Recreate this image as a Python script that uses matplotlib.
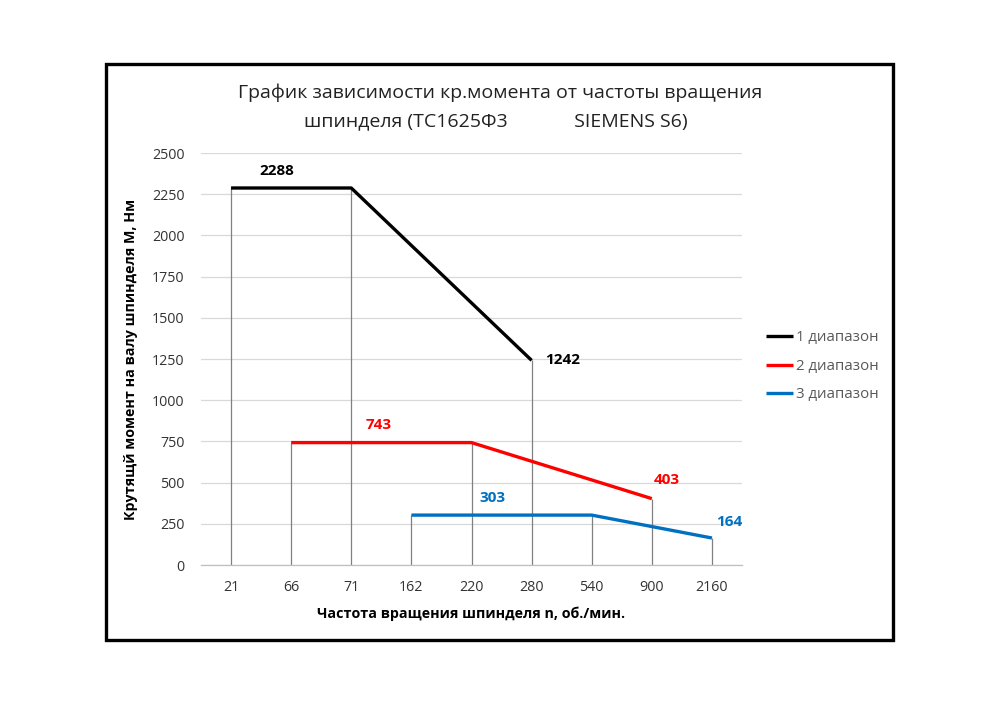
import numpy as np
import matplotlib
matplotlib.use("Agg")
import matplotlib.pyplot as plt
from matplotlib.patches import Rectangle

plt.rcParams['font.family'] = ['Open Sans', 'DejaVu Sans']

categories = ['21', '66', '71', '162', '220', '280', '540', '900', '2160']
nan = np.nan
range1 = [2288, nan, 2288, nan, nan, 1242, nan, nan, nan]
range2 = [nan, 743, nan, nan, 743, nan, nan, 403, nan]
range3 = [nan, nan, nan, 303, nan, nan, 303, nan, 164]
series_names = ['1 диапазон', '2 диапазон', '3 диапазон']
colors = ['#000000', '#ff0000', '#0070c0']

title1 = 'График зависимости кр.момента от частоты вращения'
title2 = 'шпинделя (ТС1625Ф3             SIEMENS S6)'
xlabel = 'Частота вращения шпинделя n, об./мин.'
ylabel = 'Крутящй момент на валу шпинделя М, Нм'

fig = plt.figure(figsize=(10, 7.07), dpi=100)
fig.patches.append(Rectangle((0.106, 0.0948), 0.787, 0.8147, transform=fig.transFigure,
                             fill=False, edgecolor='black', linewidth=2.4))
ax = fig.add_axes([0.201, 0.2008, 0.541, 0.5827])

x = np.arange(len(categories))
series = [range1, range2, range3]

# drop lines
tops = np.nanmax(np.array(series, dtype=float), axis=0)
ax.vlines(x, 0, tops, color='#808080', linewidth=0.9, zorder=2)

for vals, col, name in zip(series, colors, series_names):
    v = np.array(vals, dtype=float)
    m = ~np.isnan(v)
    ax.plot(x[m], v[m], color=col, linewidth=2.4, label=name, zorder=3,
            solid_capstyle='butt')

# data labels
label_specs = [
    (0, 2288, 0, (46, 17)),
    (5, 1242, 0, (31, 0)),
    (1, 743, 1, (88, 18)),
    (7, 403, 1, (15, 19)),
    (3, 303, 2, (81, 17)),
    (8, 164, 2, (17, 16)),
]
for xi, val, si, off in label_specs:
    ax.annotate(str(val), (x[xi], val), xytext=off, textcoords='offset pixels',
                ha='center', va='center', fontsize=11, fontweight='bold',
                color=colors[si])

ax.set_xlim(-0.5, len(categories) - 0.5)
ax.set_ylim(0, 2500)
ax.set_yticks(np.arange(0, 2501, 250))
ax.set_xticks(x)
ax.set_xticklabels(categories)
ax.grid(axis='y', color='#d9d9d9', linewidth=0.9, zorder=0)
ax.set_axisbelow(True)
for s in ['top', 'right', 'left']:
    ax.spines[s].set_visible(False)
ax.spines['bottom'].set_color('#bfbfbf')
ax.spines['bottom'].set_linewidth(0.9)
ax.tick_params(axis='both', length=0, labelsize=10.3, colors='#333333')
ax.tick_params(axis='y', pad=12)
ax.tick_params(axis='x', pad=11)

ax.set_xlabel(xlabel, fontsize=10.3, fontweight='bold', labelpad=8)
ax.set_ylabel(ylabel, fontsize=10.3, fontweight='bold', labelpad=10)

fig.text(0.5, 1 - 93 / 707, title1, ha='center', va='center', fontsize=14, color='#222222')
fig.text(0.496, 1 - 121 / 707, title2, ha='center', va='center', fontsize=14, color='#222222')

leg = ax.legend(loc='center left', bbox_to_anchor=(1.02, 0.482), frameon=False,
                fontsize=10.8, handlelength=1.8, handletextpad=0.2, labelspacing=0.9)
for t in leg.get_texts():
    t.set_color('#595959')

fig.savefig('out.png', dpi=100)
